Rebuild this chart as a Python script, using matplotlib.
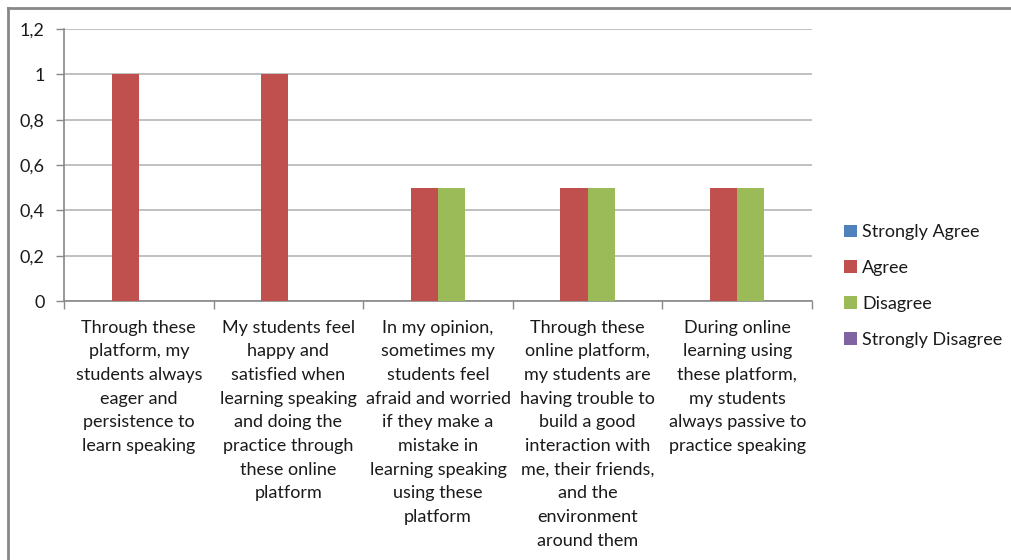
import numpy as np
import matplotlib
matplotlib.use("Agg")
import matplotlib.pyplot as plt
from matplotlib.lines import Line2D
from matplotlib.patches import Patch

plt.rcParams['font.family'] = ['Lato', 'DejaVu Sans']

categories = [
    "Through these\nplatform, my\nstudents always\neager and\npersistence to\nlearn speaking",
    "My students feel\nhappy and\nsatisfied when\nlearning speaking\nand doing the\npractice through\nthese online\nplatform",
    "In my opinion,\nsometimes my\nstudents feel\nafraid and worried\nif they make a\nmistake in\nlearning speaking\nusing these\nplatform",
    "Through these\nonline platform,\nmy students are\nhaving trouble to\nbuild a good\ninteraction with\nme, their friends,\nand the\nenvironment\naround them",
    "During online\nlearning using\nthese platform,\nmy students\nalways passive to\npractice speaking",
]
series_names = ["Strongly Agree", "Agree", "Disagree", "Strongly Disagree"]
strongly_agree = [0, 0, 0, 0, 0]
agree = [1, 1, 0.5, 0.5, 0.5]
disagree = [0, 0, 0.5, 0.5, 0.5]
strongly_disagree = [0, 0, 0, 0, 0]
y_ticks = [0, 0.2, 0.4, 0.6, 0.8, 1.0, 1.2]
y_labels = ["0", "0,2", "0,4", "0,6", "0,8", "1", "1,2"]

colors = ["#4F81BD", "#C0504D", "#9BBB59", "#8064A2"]
all_series = [strongly_agree, agree, disagree, strongly_disagree]
text_color = "#1A1A1A"

fig = plt.figure(figsize=(10.11, 5.6), dpi=100)
ax = fig.add_axes([64 / 1011, 1 - 301 / 560, (812 - 64) / 1011, (301 - 29) / 560])

n = len(categories)
x = np.arange(n)
bw = 1 / 5.5
for i, (vals, c) in enumerate(zip(all_series, colors)):
    ax.bar(x + (i - 1.5) * bw, vals, width=bw, color=c, linewidth=0, zorder=3)

ax.set_xlim(-0.5, n - 0.5)
ax.set_ylim(0, 1.2)
ax.set_yticks(y_ticks)
ax.set_yticklabels(y_labels, fontsize=13, color=text_color)
ax.yaxis.grid(True, color="#B5B5B5", linewidth=1.2, zorder=0)
ax.tick_params(axis='y', length=6, color="#888888", width=1, pad=8)

ax.set_xticks(x)
ax.set_xticklabels(categories, fontsize=13, color=text_color, linespacing=1.59, va='top')
ax.tick_params(axis='x', which='major', length=0, pad=13.5)
ax.set_xticks(np.arange(n + 1) - 0.5, minor=True)
ax.tick_params(axis='x', which='minor', length=6, color="#888888", width=1)

for s in ['top', 'right']:
    ax.spines[s].set_visible(False)
for s in ['left', 'bottom']:
    ax.spines[s].set_color("#888888")
    ax.spines[s].set_linewidth(1.2)

handles = [Patch(facecolor=c, edgecolor='none', label=nm) for c, nm in zip(colors, series_names)]
fig.legend(handles=handles, loc='center left', bbox_to_anchor=(828 / 1011, 1 - 286 / 560),
           frameon=False, fontsize=13, handlelength=0.7, handleheight=0.7,
           handletextpad=0.3, labelspacing=1.1, labelcolor=text_color)

# chart frame (top and left edges visible)
fig.add_artist(Line2D([8 / 1011, 1], [1 - 7.5 / 560, 1 - 7.5 / 560], color="#888888", linewidth=2))
fig.add_artist(Line2D([8 / 1011, 8 / 1011], [0, 1 - 7.5 / 560], color="#888888", linewidth=2))

fig.savefig("out.png", dpi=100)
